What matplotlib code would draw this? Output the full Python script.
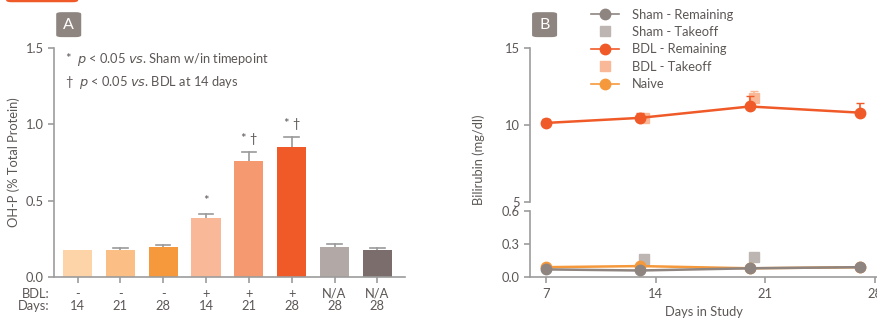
import matplotlib.pyplot as plt
from matplotlib.patches import FancyBboxPatch
import numpy as np

plt.rcParams['font.family'] = ['Lato', 'DejaVu Sans']

# Panel A: hydroxyproline content per group
bdl_labels = ['-', '-', '-', '+', '+', '+', 'N/A', 'N/A']
day_labels = ['14', '21', '28', '14', '21', '28', '28', '28']
ohp_mean = [0.18, 0.18, 0.20, 0.39, 0.757, 0.85, 0.20, 0.18]
ohp_err = [0.0, 0.012, 0.012, 0.02, 0.06, 0.065, 0.015, 0.012]
ohp_sig = ['', '', '', '*', '* \u2020', '* \u2020', '', '']
bar_colors = ['#FDD3A8', '#FBBE84', '#F5993C', '#F9B998', '#F59A70',
              '#F05A28', '#B2A9A6', '#7A6D6C']

# Panel B: bilirubin over time
days_rem = [7, 13, 20, 27]
days_take = [13.25, 20.25]
bdl_rem = [10.13, 10.46, 11.2, 10.8]
bdl_rem_err = [0.25, 0.3, 0.7, 0.6]
bdl_take = [10.45, 11.75]
bdl_take_err = [0.0, 0.45]
sham_rem = [0.07, 0.06, 0.08, 0.09]
sham_take = [0.16, 0.18]
naive = [0.09, 0.10, 0.08, 0.09]

TXT = '#5C5755'
AX = '#9C9C9C'
C_SHAM = '#8F8580'
C_SHAM_T = '#BDB5B2'
C_BDL = '#F05A28'
C_BDL_T = '#F9B998'
C_NAIVE = '#F5993C'
FS = 9.3

fig = plt.figure(figsize=(8.78, 3.2), dpi=100)


def style(ax):
    for s in ['top', 'right']:
        ax.spines[s].set_visible(False)
    for s in ['left', 'bottom']:
        ax.spines[s].set_color(AX)
        ax.spines[s].set_linewidth(1.2)
    ax.tick_params(colors=AX, labelcolor=TXT, labelsize=FS, length=4, width=1.2)


def tag(x, y, letter):
    fig.patches.append(FancyBboxPatch((x, y), 0.0285, 0.078,
                                      boxstyle='round,pad=0,rounding_size=0.006',
                                      transform=fig.transFigure, fc='#8F8580', ec='none'))
    fig.text(x + 0.0143, y + 0.039, letter, color='white', fontsize=11.5,
             ha='center', va='center')


# top banner fragment
fig.patches.append(FancyBboxPatch((0.007, 0.993), 0.082, 0.03,
                                  boxstyle='round,pad=0,rounding_size=0.006',
                                  transform=fig.transFigure, fc='#F05A28', ec='none'))

# ---- Panel A ----
axA = fig.add_axes([0.0615, 0.134, 0.4, 0.716])
style(axA)
x = np.arange(len(ohp_mean))
axA.bar(x, ohp_mean, width=0.68, color=bar_colors, zorder=2)
for xi, m, e, s in zip(x, ohp_mean, ohp_err, ohp_sig):
    if e > 0:
        axA.plot([xi, xi], [m, m + e], color='#9A9A9A', lw=1.2, zorder=1)
        axA.plot([xi - 0.17, xi + 0.17], [m + e, m + e], color='#9A9A9A', lw=1.2, zorder=1)
    if s:
        axA.text(xi, m + e + 0.05, s, ha='center', va='bottom', color=TXT, fontsize=FS)
axA.set_xlim(-0.55, 7.65)
axA.set_ylim(0, 1.5)
axA.set_yticks([0, 0.5, 1.0, 1.5])
axA.set_yticklabels(['0.0', '0.5', '1.0', '1.5'])
axA.set_xticks(x)
axA.set_xticklabels([f'{b}\n{d}' for b, d in zip(bdl_labels, day_labels)],
                    fontsize=FS, linespacing=1.0)
axA.set_ylabel('OH-P (% Total Protein)', color=TXT, fontsize=FS, labelpad=4)
axA.annotate('BDL:\nDays:', xy=(0, 0), xycoords='axes fraction', xytext=(-3, -7.5),
             textcoords='offset points', ha='right', va='top', color=TXT,
             fontsize=FS, linespacing=1.0)
axA.text(0.03, 0.95, '*  $p$ < 0.05 $vs$. Sham w/in timepoint', transform=axA.transAxes,
         color=TXT, fontsize=FS, va='center')
axA.text(0.03, 0.85, '\u2020  $p$ < 0.05 $vs$. BDL at 14 days', transform=axA.transAxes,
         color=TXT, fontsize=FS, va='center')
tag(0.064, 0.884, 'A')

# ---- Panel B (broken y axis) ----
axU = fig.add_axes([0.6036, 0.369, 0.396, 0.481])
axL = fig.add_axes([0.6036, 0.134, 0.396, 0.207])
for ax in (axU, axL):
    style(ax)
    ax.set_xlim(6, 28.15)
    ax.patch.set_alpha(0)
axU.spines['bottom'].set_visible(False)
axU.tick_params(axis='x', bottom=False, labelbottom=False)
axU.set_ylim(5, 15)
axU.set_yticks([5, 10, 15])
axL.set_ylim(0, 0.6)
axL.set_yticks([0, 0.3, 0.6])
axL.set_yticklabels(['0.0', '0.3', '0.6'])
axL.set_xticks([7, 14, 21, 28])
axL.set_xlabel('Days in Study', color=TXT, fontsize=FS, labelpad=5)

axU.errorbar(days_take, bdl_take, yerr=[[0, 0], bdl_take_err], fmt='s', ms=7.5,
             color=C_BDL_T, ecolor=C_BDL_T, capsize=3, elinewidth=1.2, zorder=2)
axU.errorbar(days_rem, bdl_rem, yerr=[[0] * 4, bdl_rem_err], fmt='-o', ms=7.5, lw=1.8,
             color=C_BDL, ecolor=C_BDL, capsize=3, elinewidth=1.2, zorder=3)
axL.plot(days_take, sham_take, 's', ms=7.5, color=C_SHAM_T, zorder=2)
axL.plot(days_rem, naive, '-o', ms=7.5, lw=1.8, color=C_NAIVE, zorder=3, clip_on=False)
axL.plot(days_rem, sham_rem, '-o', ms=7.5, lw=1.8, color=C_SHAM, zorder=4, clip_on=False)

fig.text(0.545, 0.5, 'Bilirubin (mg/dl)', rotation=90, ha='center', va='center',
         color=TXT, fontsize=FS)

# legend
leg_items = [('Sham - Remaining', C_SHAM, 'line'), ('Sham - Takeoff', C_SHAM_T, 'sq'),
             ('BDL - Remaining', C_BDL, 'line'), ('BDL - Takeoff', C_BDL_T, 'sq'),
             ('Naive', C_NAIVE, 'line')]
handles = []
for lab, c, kind in leg_items:
    if kind == 'line':
        h, = axU.plot([], [], '-o', color=c, ms=7.5, lw=1.2, label=lab)
    else:
        h, = axU.plot([], [], 's', color=c, ms=7.5, label=lab)
    handles.append(h)
leg = axU.legend(handles=handles, loc='upper left', bbox_to_anchor=(0.161, 1.29),
                 frameon=False, fontsize=FS, labelspacing=0.42, handlelength=2.17,
                 handletextpad=1.0, borderaxespad=0)
for t in leg.get_texts():
    t.set_color(TXT)
tag(0.606, 0.884, 'B')

fig.savefig('out.png', dpi=100)
